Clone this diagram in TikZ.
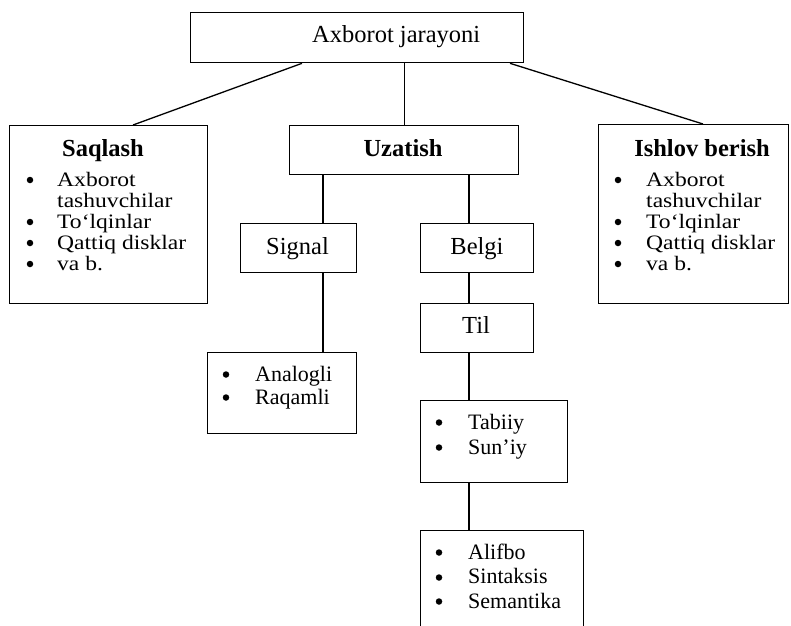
\documentclass[tikz,border=0pt]{standalone}
\usepackage{fontspec}
\setmainfont{Liberation Serif}
\newfontfamily\sidefont[FakeStretch=1.15]{Liberation Serif}
\usetikzlibrary{calc}
\newcommand\mylines[2]{\vtop{\baselineskip=#1\lineskiplimit=-100pt\lineskip=0pt #2}}
\begin{document}
\begin{tikzpicture}[x=1pt,y=-1pt,
  box/.style={draw, line width=1.3pt, rectangle, inner sep=0pt, anchor=north west},
  big/.style={font=\fontsize{24.5}{28}\selectfont, inner sep=0pt, anchor=base west},
  ttlx/.style={font=\fontsize{24.5}{28}\selectfont\bfseries, inner sep=0pt, anchor=base},
  itm/.style={font=\fontsize{22}{26}\selectfont, inner sep=0pt, anchor=base west},
  itml/.style={font=\sidefont\fontsize{20.5}{21}\selectfont, inner sep=0pt, anchor=base west},
  bul/.style={circle, fill, inner sep=0pt, minimum size=6.5pt},
  link/.style={line width=1.3pt}]
\useasboundingbox (0,0) rectangle (791,625);
\clip (0,0) rectangle (791,625);
\fill[white] (0,0) rectangle (791,625);

% boxes
\node[box, minimum width=333pt, minimum height=50pt] (ax) at (190,12) {};
\node[box, minimum width=198pt, minimum height=178pt] (sq) at (9,125) {};
\node[box, minimum width=229pt, minimum height=49pt] (uz) at (289,125) {};
\node[box, minimum width=190pt, minimum height=179pt] (ish) at (598,124) {};
\node[box, minimum width=116pt, minimum height=49pt] (sg) at (240,223) {};
\node[box, minimum width=113pt, minimum height=49pt] (bg) at (420,223) {};
\node[box, minimum width=113pt, minimum height=49pt] (tl) at (420,303) {};
\node[box, minimum width=149pt, minimum height=81pt] (an) at (207,352) {};
\node[box, minimum width=147pt, minimum height=82pt] (tb) at (420,400) {};
\node[box, minimum width=163pt, minimum height=130pt] (al) at (420,530) {};

% titles
\node[big] (tax) at (312,42) {Axborot jarayoni};
\node[ttlx] (tsq) at (103,156) {Saqlash};
\node[ttlx] (tuz) at (403,156) {Uzatish};
\node[ttlx] (tish) at (702,156) {Ishlov berish};
\node[big, anchor=base] (tsg) at (297.5,254) {Signal};
\node[big, anchor=base] (tbg) at (477,254) {Belgi};
\node[big, anchor=base] (ttil) at (476,333) {Til};

% Saqlash list
\node[bul] (sqb1) at (30,180) {};
\node[bul] (sqb2) at (30,222) {};
\node[bul] (sqb3) at (30,243) {};
\node[bul] (sqb4) at (30,264) {};
\node[itml] (sqt) at (57,186.5) {\mylines{21pt}{\hbox{Axborot}\hbox{tashuvchilar}\hbox{To‘lqinlar}\hbox{Qattiq disklar}\hbox{va b.}}};

% Ishlov list
\node[bul] (isb1) at (618,180) {};
\node[bul] (isb2) at (618,222) {};
\node[bul] (isb3) at (618,243) {};
\node[bul] (isb4) at (618,264) {};
\node[itml] (ist) at (646,186.5) {\mylines{21pt}{\hbox{Axborot}\hbox{tashuvchilar}\hbox{To‘lqinlar}\hbox{Qattiq disklar}\hbox{va b.}}};

% Signal list
\node[bul] (anb1) at (226,374.5) {};
\node[bul] (anb2) at (226,397.5) {};
\node[itm] (ant) at (255,381) {\mylines{23pt}{\hbox{Analogli}\hbox{Raqamli}}};

% Til list
\node[bul] (tbb1) at (439,422.5) {};
\node[bul] (tbb2) at (439,447.5) {};
\node[itm] (tbt) at (468,429) {\mylines{25pt}{\hbox{Tabiiy}\hbox{Sun’iy}}};

% bottom list
\node[bul] (alb1) at (439,552.5) {};
\node[bul] (alb2) at (439,577.5) {};
\node[bul] (alb3) at (439,601.5) {};
\node[itm] (alt) at (468,559) {\mylines{24.5pt}{\hbox{Alifbo}\hbox{Sintaksis}\hbox{Semantika}}};

% connector columns
\coordinate (xs) at (323,0);
\coordinate (xb) at (469,0);
\coordinate (d1) at (302,0);
\coordinate (d2) at (133,0);
\coordinate (d3) at (510,0);
\coordinate (d4) at (703,0);

\draw[link] (ax.south -| uz.north) -- (uz.north);
\draw[link] (ax.south -| d1) -- (sq.north -| d2);
\draw[link] (ax.south -| d3) -- (ish.north -| d4);
\draw[link] (uz.south -| xs) -- (sg.north -| xs);
\draw[link] (uz.south -| xb) -- (bg.north -| xb);
\draw[link] (sg.south -| xs) -- (an.north -| xs);
\draw[link] (bg.south -| xb) -- (tl.north -| xb);
\draw[link] (tl.south -| xb) -- (tb.north -| xb);
\draw[link] (tb.south -| xb) -- (al.north -| xb);
\end{tikzpicture}
\end{document}
